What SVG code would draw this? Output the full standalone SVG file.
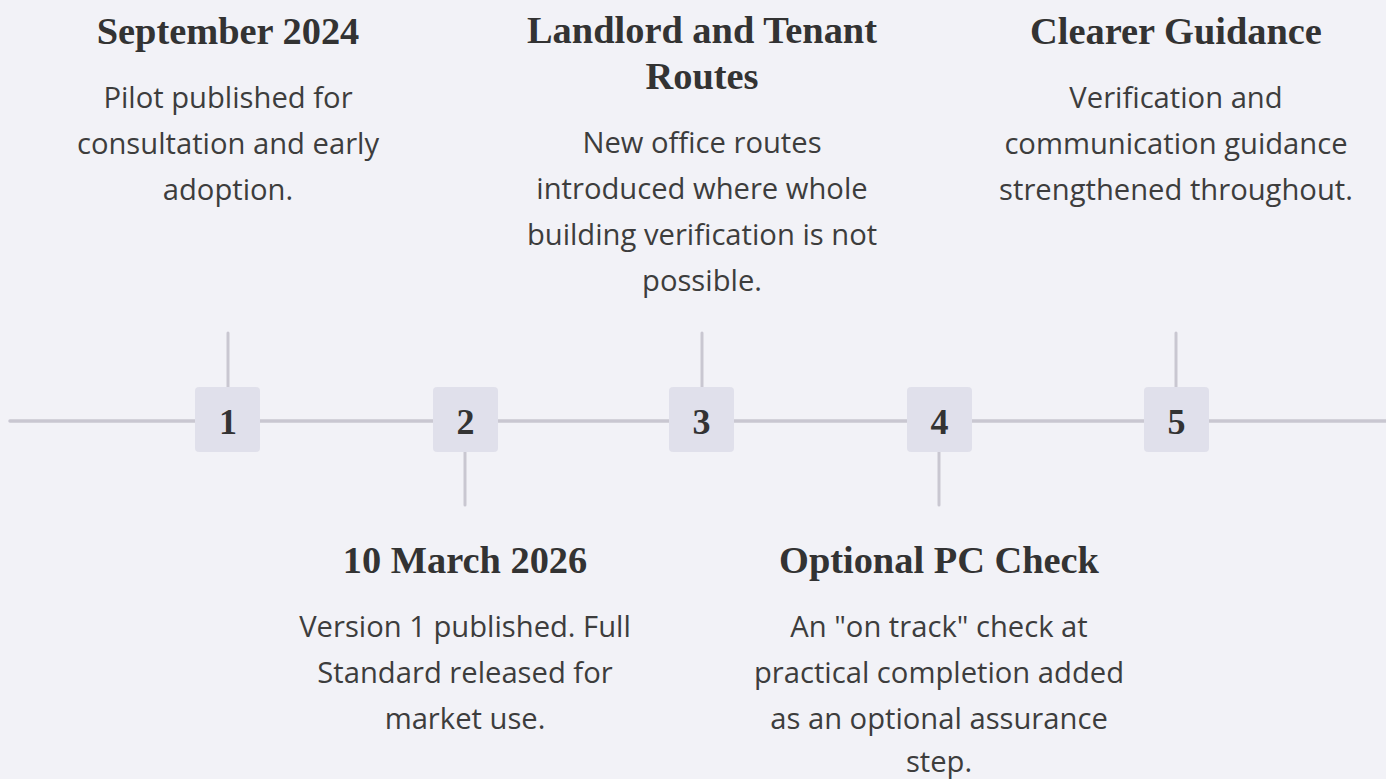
<svg xmlns="http://www.w3.org/2000/svg" width="1386" height="779" viewBox="0 0 1386 779">
  <style>
    .bg { fill: #f2f2f7; }
    .axis { stroke: #c9c7d1; stroke-width: 3.5; stroke-linecap: round; fill: none; }
    .stub { stroke: #c9c7d1; stroke-width: 3; stroke-linecap: round; fill: none; }
    .marker { fill: #e0e0eb; }
    .num { font-family: "Liberation Serif", "DejaVu Serif", serif; font-weight: 700; font-size: 36px; fill: #333333; text-anchor: middle; }
    .title { font-family: "Liberation Serif", "DejaVu Serif", serif; font-weight: 700; font-size: 38.4px; fill: #333333; text-anchor: middle; }
    .desc { font-family: "Open Sans", "Noto Sans", "Liberation Sans", sans-serif; font-size: 29.2px; fill: #3d3d3d; text-anchor: middle; }
  </style>

  <rect class="bg" x="0" y="0" width="1386" height="779"/>

  <!-- timeline axis and stubs -->
  <g id="connectors">
    <line class="axis" x1="10" y1="421" x2="1390" y2="421"/>
    <line class="stub" x1="228" y1="333" x2="228" y2="387"/>
    <line class="stub" x1="465" y1="452" x2="465" y2="505"/>
    <line class="stub" x1="702" y1="333" x2="702" y2="387"/>
    <line class="stub" x1="939" y1="452" x2="939" y2="505"/>
    <line class="stub" x1="1176" y1="333" x2="1176" y2="387"/>
  </g>

  <!-- 1: September 2024 -->
  <g id="event-1">
    <rect class="marker" x="195" y="387" width="65" height="65" rx="4"/>
    <text class="num" x="228" y="434">1</text>
    <text class="title" x="228" y="44">September 2024</text>
    <text class="desc" x="228" y="108">Pilot published for</text>
    <text class="desc" x="228" y="154">consultation and early</text>
    <text class="desc" x="228" y="200">adoption.</text>
  </g>

  <!-- 2: 10 March 2026 -->
  <g id="event-2">
    <rect class="marker" x="433" y="387" width="65" height="65" rx="4"/>
    <text class="num" x="465.5" y="434">2</text>
    <text class="title" x="465" y="573">10 March 2026</text>
    <text class="desc" x="465" y="637">Version 1 published. Full</text>
    <text class="desc" x="465" y="683">Standard released for</text>
    <text class="desc" x="465" y="729">market use.</text>
  </g>

  <!-- 3: Landlord and Tenant Routes -->
  <g id="event-3">
    <rect class="marker" x="669" y="387" width="65" height="65" rx="4"/>
    <text class="num" x="701.5" y="434">3</text>
    <text class="title" x="702" y="43">Landlord and Tenant</text>
    <text class="title" x="702" y="89">Routes</text>
    <text class="desc" x="702" y="153">New office routes</text>
    <text class="desc" x="702" y="199">introduced where whole</text>
    <text class="desc" x="702" y="245">building verification is not</text>
    <text class="desc" x="702" y="291">possible.</text>
  </g>

  <!-- 4: Optional PC Check -->
  <g id="event-4">
    <rect class="marker" x="907" y="387" width="65" height="65" rx="4"/>
    <text class="num" x="939.5" y="434">4</text>
    <text class="title" x="939" y="573">Optional PC Check</text>
    <text class="desc" x="939" y="637">An "on track" check at</text>
    <text class="desc" x="939" y="683">practical completion added</text>
    <text class="desc" x="939" y="729">as an optional assurance</text>
    <text class="desc" x="939" y="772">step.</text>
  </g>

  <!-- 5: Clearer Guidance -->
  <g id="event-5">
    <rect class="marker" x="1144" y="387" width="65" height="65" rx="4"/>
    <text class="num" x="1176.5" y="434">5</text>
    <text class="title" x="1176" y="44">Clearer Guidance</text>
    <text class="desc" x="1176" y="108">Verification and</text>
    <text class="desc" x="1176" y="154">communication guidance</text>
    <text class="desc" x="1176" y="200">strengthened throughout.</text>
  </g>
</svg>
